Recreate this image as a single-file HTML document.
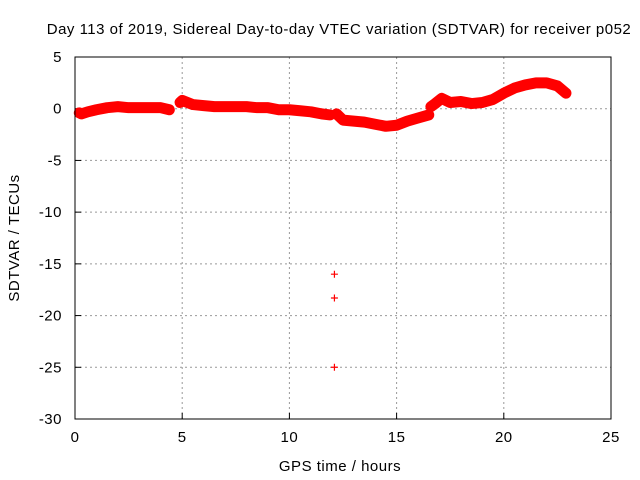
<!DOCTYPE html>
<html><head><meta charset="utf-8"><style>
body{margin:0;background:#fff}
svg{display:block;font-family:"Liberation Sans",sans-serif;font-size:15px;letter-spacing:0.5px}
</style></head><body>
<svg id="chart" width="640" height="480" viewBox="0 0 640 480">
<text x="339" y="34" text-anchor="middle">Day 113 of 2019, Sidereal Day-to-day VTEC variation (SDTVAR) for receiver p052</text>
<g id="grid"></g>
<g id="ticks"></g>
<g id="series"></g>
<rect x="75" y="57" width="536" height="362" fill="none" stroke="#000"/>
<text x="340" y="471" text-anchor="middle">GPS time / hours</text>
<text transform="translate(19,238) rotate(-90)" text-anchor="middle">SDTVAR / TECUs</text>
</svg>
<script>
const xTicks=[0,5,10,15,20,25];
const yTicks=[5,0,-5,-10,-15,-20,-25,-30];
const seg1T=[0.2,0.3,0.6,1,1.5,2,2.5,3,3.5,4,4.4];
const seg1V=[-0.4,-0.5,-0.3,-0.1,0.1,0.2,0.1,0.1,0.1,0.1,-0.1];
const seg2T=[4.9,5,5.5,6,6.5,7,7.5,8,8.5,9,9.5,10,10.5,11,11.5,11.9];
const seg2V=[0.6,0.8,0.4,0.3,0.2,0.2,0.2,0.2,0.1,0.1,-0.1,-0.1,-0.2,-0.3,-0.5,-0.6];
const seg3T=[12.2,12.5,13,13.5,14,14.5,15,15.5,16,16.5];
const seg3V=[-0.5,-1.1,-1.2,-1.3,-1.5,-1.7,-1.6,-1.2,-0.9,-0.6];
const seg4T=[16.6,16.8,17.1,17.5,18,18.5,19,19.5,20,20.5,21,21.5,22,22.5,22.9];
const seg4V=[0.2,0.5,1.0,0.6,0.7,0.5,0.6,0.9,1.5,2.0,2.3,2.5,2.5,2.2,1.5];
const outT=[12.1,12.1,12.1];
const outV=[-16,-18.3,-25];
const X=t=>75+t*536/25, Y=v=>57+(5-v)*362/35;
const NS="http://www.w3.org/2000/svg";
function mk(tag,attrs,parent){const e=document.createElementNS(NS,tag);for(const k in attrs)e.setAttribute(k,attrs[k]);parent.appendChild(e);return e;}
const grid=document.getElementById('grid'),ticks=document.getElementById('ticks'),ser=document.getElementById('series');
xTicks.forEach(t=>{
 if(t>0&&t<25){const l=mk('line',{x1:X(t),x2:X(t),y1:57,y2:419,stroke:'#999','stroke-dasharray':'2,3'},grid);
 
 }
 const tk=mk('line',{x1:X(t),x2:X(t),y1:419,y2:413,stroke:'#000'},ticks);
 
 
 const tx=mk('text',{x:X(t),y:442,'text-anchor':'middle'},ticks);tx.textContent=t;
 
 
});
yTicks.forEach(v=>{
 if(v<5&&v>-30){const l=mk('line',{x1:75,x2:611,y1:Y(v),y2:Y(v),stroke:'#999','stroke-dasharray':'2,3'},grid);
 
 }
 const tk=mk('line',{x1:75,x2:81,y1:Y(v),y2:Y(v),stroke:'#000'},ticks);
 
 
 const tx=mk('text',{x:62,y:Y(v)+5,'text-anchor':'end'},ticks);tx.textContent=v;
 
 
});
function plus(t,v){const x=X(t),y=Y(v);
 const p=mk('path',{d:`M${x-3.5},${y}H${x+3.5}M${x},${y-3.5}V${y+3.5}`,stroke:'#f00','stroke-width':1.2},ser);
 
 }
[[seg1T,seg1V],[seg2T,seg2V],[seg3T,seg3V],[seg4T,seg4V]].forEach(([T,V])=>{
 const pl=mk('polyline',{points:T.map((t,i)=>X(t)+','+Y(V[i])).join(' '),fill:'none',stroke:'#f00','stroke-width':11,'stroke-linejoin':'round','stroke-linecap':'round'},ser);
 
 
 T.forEach((t,i)=>plus(t,V[i]));
});
outT.forEach((t,i)=>plus(t,outV[i]));
</script>
</body></html>
